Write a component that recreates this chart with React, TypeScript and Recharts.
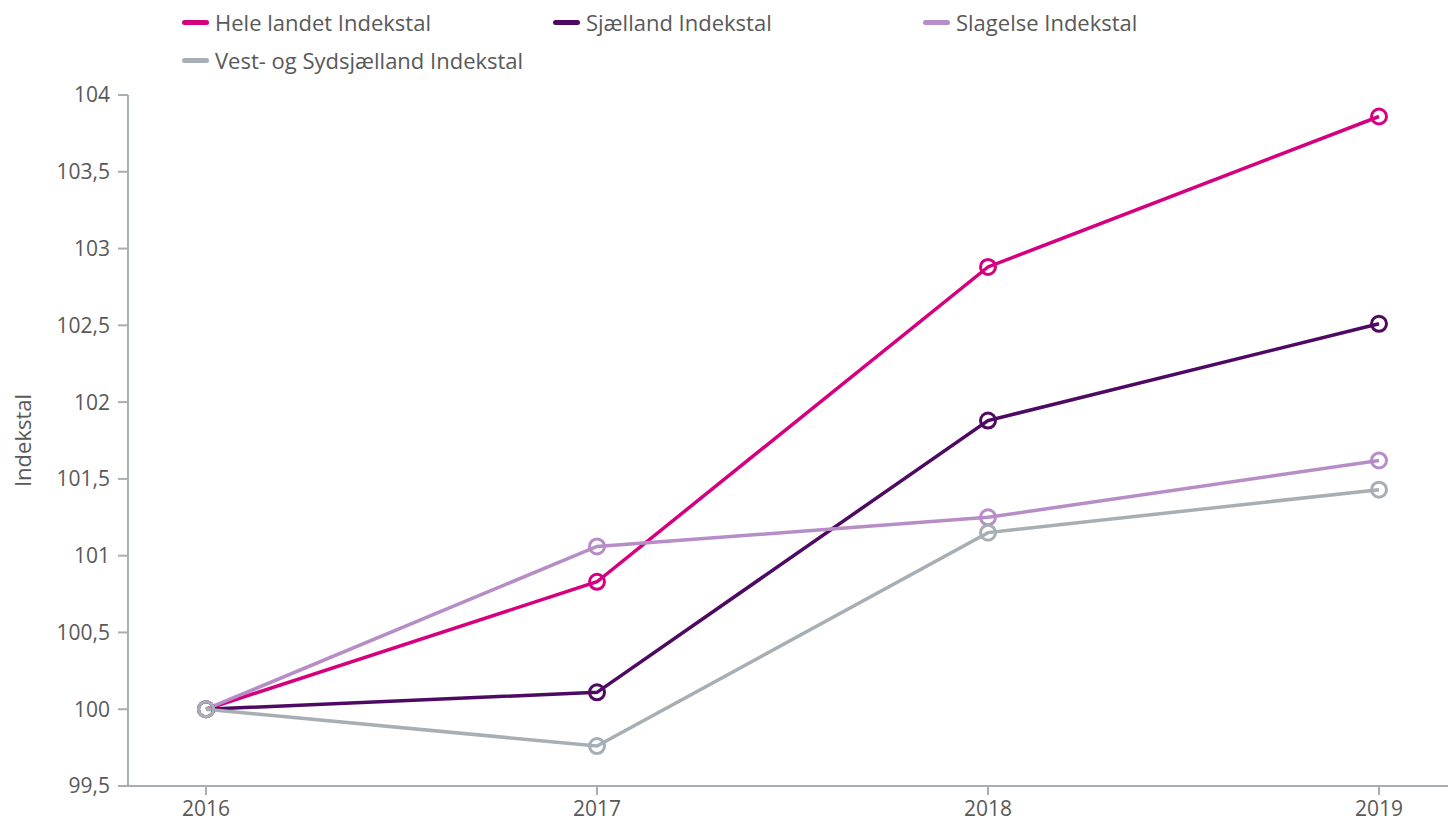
import { CartesianGrid, Line, LineChart, XAxis, YAxis } from "recharts";

const years = ["2016", "2017", "2018", "2019"];
const heleLandet = [100, 100.83, 102.88, 103.86];
const sjaelland = [100, 100.11, 101.88, 102.51];
const slagelse = [100, 101.06, 101.25, 101.62];
const vestSyd = [100, 99.76, 101.15, 101.43];
const yTicks = [99.5, 100, 100.5, 101, 101.5, 102, 102.5, 103, 103.5, 104];

const series = [
  { key: "hele", name: "Hele landet Indekstal", color: "#d6007f", values: heleLandet },
  { key: "sj", name: "Sjælland Indekstal", color: "#4e0a63", values: sjaelland },
  { key: "sl", name: "Slagelse Indekstal", color: "#b68dc6", values: slagelse },
  { key: "vs", name: "Vest- og Sydsjælland Indekstal", color: "#a7aeb4", values: vestSyd },
];

const data = years.map((y, i) => {
  const row: Record<string, string | number> = { year: y };
  series.forEach((s) => (row[s.key] = s.values[i]));
  return row;
});

const font = "'Open Sans', 'Noto Sans', sans-serif";
const textColor = "#595959";
const axisColor = "#a7aeb4";

const legendPos = [
  { left: 182, top: 7 },
  { left: 553, top: 7 },
  { left: 923, top: 7 },
  { left: 182, top: 45 },
];

// y-axis title, centred on the plot's height
function AxisTitle(props: any) {
  const vb = props.viewBox || {};
  const cx = 22;
  const cy = (vb.y ?? 95) + (vb.height ?? 691) / 2;
  return (
    <text
      x={cx}
      y={cy}
      transform={`rotate(-90, ${cx}, ${cy})`}
      textAnchor="middle"
      dominantBaseline="central"
      fill={textColor}
      fontSize={22}
      fontFamily={font}
    >
      Indekstal
    </text>
  );
}

export default function App() {
  return (
    <div style={{ position: "absolute", left: 0, top: 0, width: 1450, height: 825, fontFamily: font }}>
      {series.map((s, i) => (
        <div
          key={s.key}
          style={{
            position: "absolute",
            left: legendPos[i].left,
            top: legendPos[i].top,
            display: "flex",
            alignItems: "center",
            fontSize: 22,
            color: textColor,
            whiteSpace: "nowrap",
          }}
        >
          <span style={{ width: 27, height: 5, borderRadius: 3, background: s.color, marginRight: 6 }} />
          {s.name}
        </div>
      ))}
      <LineChart
        width={1450}
        height={825}
        data={data}
        margin={{ top: 95, right: 2, bottom: 9, left: 0 }}
      >
        <CartesianGrid stroke="none" />
        <XAxis
          dataKey="year"
          height={30}
          padding={{ left: 78, right: 69 }}
          stroke={axisColor}
          strokeWidth={2}
          tickSize={9}
          tickMargin={6}
          tick={{ fill: textColor, fontSize: 21, fontFamily: font }}
        />
        <YAxis
          width={128}
          domain={[99.5, 104]}
          ticks={yTicks}
          interval={0}
          stroke={axisColor}
          strokeWidth={2}
          tickSize={10}
          tickMargin={8}
          tickFormatter={(v: number) => String(v).replace(".", ",")}
          tick={{ fill: textColor, fontSize: 21, fontFamily: font }}
          label={{ content: <AxisTitle /> }}
        />
        {series.map((s) => (
          <Line
            key={s.key}
            dataKey={s.key}
            name={s.name}
            stroke={s.color}
            strokeWidth={3.5}
            dot={{ r: 7.5, stroke: s.color, strokeWidth: 3, fill: "none" }}
            isAnimationActive={false}
          />
        ))}
      </LineChart>
    </div>
  );
}
